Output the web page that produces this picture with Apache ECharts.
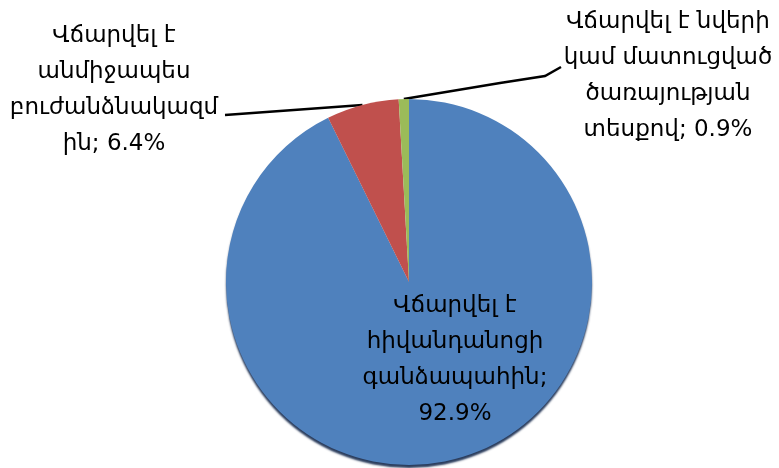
<!DOCTYPE html>
<html>
<head>
<meta charset="utf-8">
<script src="https://cdn.jsdelivr.net/npm/echarts@6/dist/echarts.min.js"></script>
<style>
  html, body { margin: 0; padding: 0; background: #ffffff; }
  #chart { width: 779px; height: 468px; }
</style>
</head>
<body>
<div id="chart"></div>
<script>
// Payment categories (line breaks follow the label wrapping) and their shares, %
var categories = [
  'Վճարվել է\nհիվանդանոցի\nգանձապահին',
  'Վճարվել է\nանմիջապես\nբուժանձնակազմ\nին',
  'Վճարվել է նվերի\nկամ մատուցված\nծառայության\nտեսքով'
];
var shares = [92.9, 6.4, 0.9];
var colors = ['#4F81BD', '#C0504D', '#9BBB59'];

var chart = echarts.init(document.getElementById('chart'), null, { renderer: 'canvas' });

// Where each label block sits and how its leader line bends (pixels)
var labelPlacement = [
  { x: 455, y: 360, line: null },
  { x: 114, y: 90, line: [[225, 115]] },
  { x: 668, y: 76, line: [[500, 83], [545, 76], [561, 67]] }
];

var data = categories.map(function (name, i) {
  var style = { color: colors[i] };
  if (i === 0) {
    // dark rim under the large slice
    style.shadowBlur = 2;
    style.shadowOffsetY = 3;
    style.shadowColor = 'rgba(20, 40, 75, 0.9)';
  }
  return {
    name: name,
    value: shares[i],
    itemStyle: style,
    label: { position: i === 0 ? 'inside' : 'outside' },
    labelLine: { show: i !== 0 }
  };
});

chart.setOption({
  backgroundColor: '#ffffff',
  animation: false,
  series: [{
    type: 'pie',
    center: [409, 282],
    radius: [0, 183],
    startAngle: 90,
    clockwise: true,
    avoidLabelOverlap: false,
    data: data,
    itemStyle: { borderWidth: 0 },
    label: {
      show: true,
      color: '#000000',
      fontFamily: 'DejaVu Sans',
      fontSize: 23,
      lineHeight: 36,
      align: 'center',
      formatter: function (p) {
        var sep = p.dataIndex === 0 ? ';\n' : '; ';
        return p.name + sep + p.value + '%';
      }
    },
    labelLine: {
      show: true,
      smooth: false,
      lineStyle: { color: '#000000', width: 2.5 }
    },
    emphasis: { disabled: true },
    labelLayout: function (params) {
      var pl = labelPlacement[params.dataIndex];
      var out = { x: pl.x, y: pl.y, align: 'center', verticalAlign: 'middle' };
      if (pl.line && params.labelLinePoints && params.labelLinePoints.length) {
        out.labelLinePoints = [params.labelLinePoints[0]].concat(pl.line);
      }
      return out;
    }
  }]
});
</script>
</body>
</html>
